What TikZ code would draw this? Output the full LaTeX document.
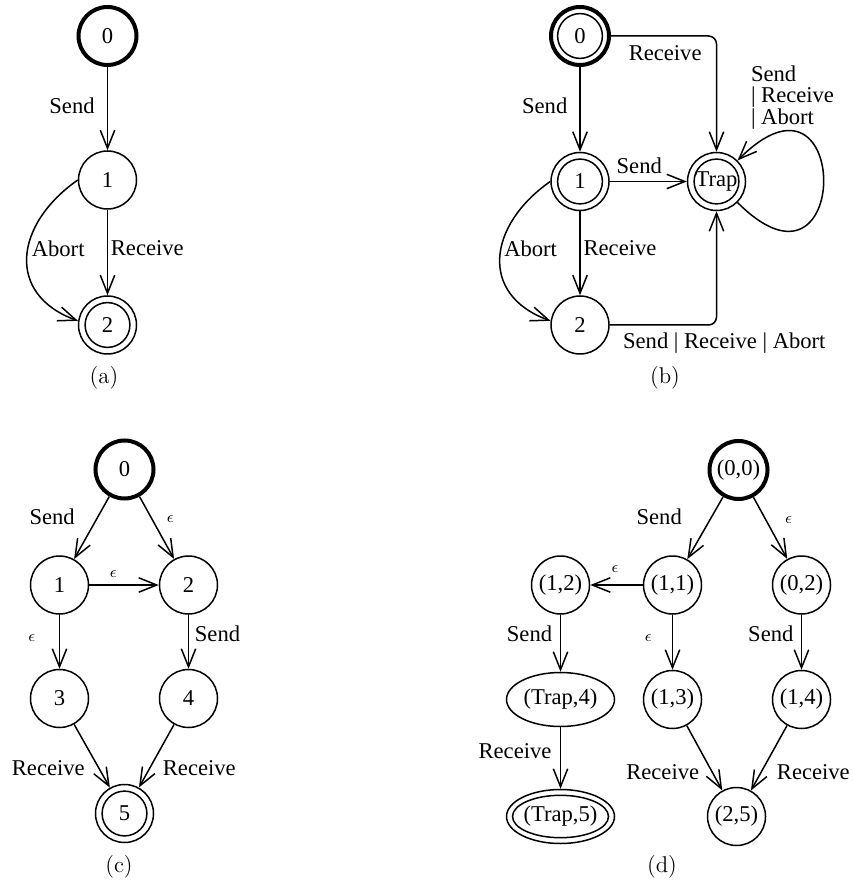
\documentclass[tikz,border=0pt]{standalone}
\usepackage{fontspec}
\newfontfamily\tms{Liberation Serif}
\usetikzlibrary{arrows.meta,shapes.geometric}

\tikzset{
  txt/.style={font=\tms\fontsize{11.3}{13}\selectfont},
  st/.style={circle, draw, line width=0.75pt, minimum size=29pt, inner sep=0pt, txt},
  ell/.style={ellipse, draw, line width=0.75pt, minimum width=54pt, minimum height=27pt, inner sep=0pt, txt},
  init/.style={line width=2pt},
  acc/.style={path picture={\draw[line width=0.75pt] (path picture bounding box.center) circle (11.2pt);}},
  accell/.style={path picture={\draw[line width=0.75pt] (path picture bounding box.center) ellipse [x radius=24pt, y radius=10.6pt];}},
  tr/.style={draw, line width=0.75pt, -{Straight Barb[length=9pt,width=7.2pt]}},
  lab/.style={txt, inner sep=0pt},
  eps/.style={font=\fontsize{8}{9}\selectfont, inner sep=0pt},
  captxt/.style={font=\fontsize{11.4}{13}\selectfont, inner sep=0pt},
}

\begin{document}
\begin{tikzpicture}[x=0.5pt, y=-0.5pt]
\useasboundingbox (0,0) rectangle (852,886);

% ---------- (a) ----------
\node[st, init] (a0) at (107.5,36) {0};
\node[st] (a1) at (107.5,180) {1};
\node[st, acc] (a2) at (107.5,325) {2};
\draw[tr] (a0) -- node[lab, xshift=-17.75pt, yshift=1.5pt] {Send} (a1);
\draw[tr] (a1) -- node[lab, xshift=19.9pt, yshift=2.1pt] {Receive} (a2);
\draw[tr] (a1.180) to[out=215, in=160, looseness=1.4]
  node[lab, xshift=15.6pt, yshift=4.35pt] {Abort} (a2.172);
\node[captxt] (capa) at (104,378) {(a)};

% ---------- (b) ----------
\node[st, init, acc] (b0) at (580,36) {0};
\node[st, acc] (b1) at (580,181.5) {1};
\node[st, acc] (bT) at (716.5,181.5) {Trap};
\node[st] (b2) at (580,325) {2};
\draw[tr] (b0) -- node[lab, xshift=-17.65pt, yshift=2pt] {Send} (b1);
\draw[tr] (b1) -- node[lab, xshift=20pt, yshift=2.35pt] {Receive} (b2);
\draw[tr] (b1.180) to[out=215, in=160, looseness=1.4]
  node[lab, xshift=15.3pt, yshift=4.35pt] {Abort} (b2.172);
\draw[tr, rounded corners=4pt] (b0) -| node[lab, pos=0.25, xshift=0.7pt, yshift=-8.65pt] {Receive} (bT);
\draw[tr] (b1) -- node[lab, xshift=-4.5pt, yshift=7.9pt] {Send} (bT);
\draw[tr, rounded corners=4pt] (b2) -| node[lab, pos=0.5, xshift=3.9pt, yshift=-9.15pt] {Send | Receive | Abort} (bT);
\draw[tr] (bT.-45) .. controls +(-45:81pt) and +(45:81pt) ..
  node[lab, pos=0.8, align=left, font=\tms\fontsize{11.3}{10.6}\selectfont, yshift=17.15pt] {Send\\| Receive\\| Abort} (bT.45);
\node[captxt] (capb) at (665,378) {(b)};

% ---------- (c) ----------
\node[st, init] (c0) at (124.5,469.5) {0};
\node[st] (c1) at (59.5,585) {1};
\node[st] (c2) at (188.5,585) {2};
\node[st] (c3) at (59.5,698.5) {3};
\node[st] (c4) at (188.5,698.5) {4};
\node[st, acc] (c5) at (124.5,813.5) {5};
\draw[tr] (c0) -- node[lab, xshift=-19.75pt, yshift=5.6pt] {Send} (c1);
\draw[tr] (c0) -- node[eps, xshift=6.75pt, yshift=4.5pt] {$\epsilon$} (c2);
\draw[tr] (c1) -- node[eps, xshift=-5.35pt, yshift=5.5pt] {$\epsilon$} (c2);
\draw[tr] (c1) -- node[eps, xshift=-13.9pt, yshift=1.7pt] {$\epsilon$} (c3);
\draw[tr] (c2) -- node[lab, xshift=14.5pt, yshift=3.9pt] {Send} (c4);
\draw[tr] (c3) -- node[lab, xshift=-21.85pt, yshift=-6.15pt] {Receive} (c5);
\draw[tr] (c4) -- node[lab, xshift=21.4pt, yshift=-6.15pt] {Receive} (c5);
\node[captxt] (capc) at (119,867) {(c)};

% ---------- (d) ----------
\node[st, init] (d00) at (738.5,470) {(0,0)};
\node[st] (d11) at (672.5,585) {(1,1)};
\node[st] (d12) at (560.5,585) {(1,2)};
\node[st] (d02) at (801.5,585) {(0,2)};
\node[ell] (dT4) at (560.5,699.5) {(Trap,4)};
\node[st] (d13) at (672.5,699.5) {(1,3)};
\node[st] (d14) at (801.5,699.5) {(1,4)};
\node[ell, accell] (dT5) at (560.5,816.5) {(Trap,5)};
\node[st] (d25) at (736.5,816.5) {(2,5)};
\draw[tr] (d00) -- node[lab, xshift=-23pt, yshift=5.75pt] {Send} (d11);
\draw[tr] (d00) -- node[eps, xshift=9.15pt, yshift=4.1pt] {$\epsilon$} (d02);
\draw[tr] (d11) -- node[eps, xshift=-0.75pt, yshift=7.85pt] {$\epsilon$} (d12);
\draw[tr] (d12) -- node[lab, xshift=-15.5pt, yshift=4.9pt] {Send} (dT4);
\draw[tr] (d11) -- node[eps, xshift=-12.1pt, yshift=1.85pt] {$\epsilon$} (d13);
\draw[tr] (d02) -- node[lab, xshift=-15.35pt, yshift=4pt] {Send} (d14);
\draw[tr] (dT4) -- node[lab, xshift=-22.75pt, yshift=3.25pt] {Receive} (dT5);
\draw[tr] (d13) -- node[lab, xshift=-20.9pt, yshift=-6.85pt] {Receive} (d25);
\draw[tr] (d14) -- node[lab, xshift=22.15pt, yshift=-6.85pt] {Receive} (d25);
\node[captxt] (capd) at (662,867) {(d)};
\end{tikzpicture}
\end{document}
